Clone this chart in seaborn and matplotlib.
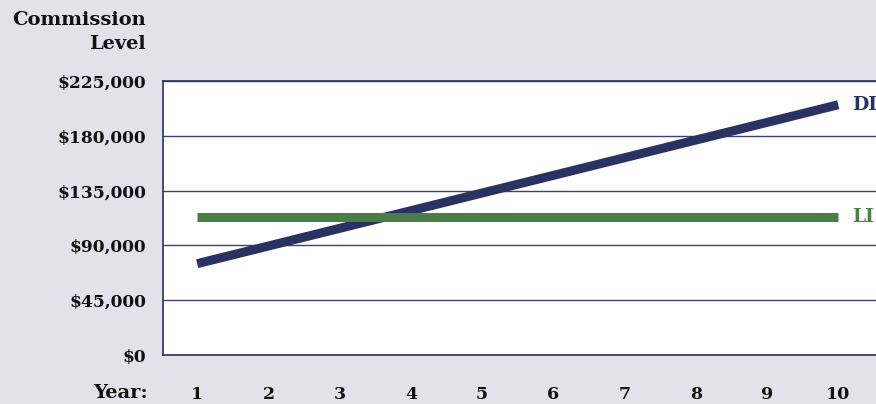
import pandas as pd
import seaborn as sns
import matplotlib.pyplot as plt

sns.set_style('white')
plt.rcParams['font.family'] = ['DejaVu Serif']

years = [1, 2, 3, 4, 5, 6, 7, 8, 9, 10]
di_values = [75000, 89500, 104000, 118500, 133000, 147500, 162000, 176500, 191000, 205500]
li_values = [113000] * 10
y_ticks = [0, 45000, 90000, 135000, 180000, 225000]
y_labels = ['$0', '$45,000', '$90,000', '$135,000', '$180,000', '$225,000']

bg = '#e3e1ea'
navy = '#2a3262'
green = '#4b7d47'
txt = '#111111'

data = pd.DataFrame({
    'Year': years * 2,
    'Commission': di_values + li_values,
    'Plan': ['DI'] * 10 + ['LI'] * 10,
})

fig = plt.figure(figsize=(8.76, 4.04), dpi=100, facecolor=bg)
ax = fig.add_axes([163 / 876, 49 / 404, 1 - 163 / 876, 274 / 404])
ax.set_facecolor('white')

sns.lineplot(data=data, x='Year', y='Commission', hue='Plan',
             palette={'DI': navy, 'LI': green}, linewidth=6.5,
             legend=False, ax=ax, zorder=3)
for line in ax.lines:
    line.set_solid_capstyle('butt')

ax.set_xlim(0.52, 10.53)
ax.set_ylim(0, 225000)
ax.set_yticks(y_ticks)
ax.set_yticklabels(y_labels)
ax.set_xticks(years)
ax.set_xticklabels([str(y) for y in years])
ax.yaxis.grid(True, color='#3a4272', linewidth=1.0)
ax.xaxis.grid(False)
ax.set_axisbelow(True)

for spine in ['left', 'top', 'bottom']:
    ax.spines[spine].set_color(navy)
    ax.spines[spine].set_linewidth(1.2)
ax.spines['right'].set_visible(False)

ax.tick_params(axis='y', length=0, pad=12, labelsize=12.3)
ax.tick_params(axis='x', length=0, pad=22, labelsize=12.5)
for lbl in ax.get_xticklabels() + ax.get_yticklabels():
    lbl.set_fontweight('bold')
    lbl.set_color(txt)
ax.set_xlabel('')
ax.set_ylabel('')

ax.text(10.19, di_values[-1], 'DI', color=navy, fontsize=13.5, fontweight='bold',
        va='center', ha='left', clip_on=False)
ax.text(10.19, li_values[-1], 'LI', color=green, fontsize=13.5, fontweight='bold',
        va='center', ha='left', clip_on=False)

fig.text(146 / 876, 1 - 11 / 404, 'Commission\nLevel', ha='right', va='top',
         fontsize=14, fontweight='bold', color=txt, linespacing=1.4)
fig.text(148 / 876, 1 - 393 / 404, 'Year:', ha='right', va='center',
         fontsize=14, fontweight='bold', color=txt)

plt.savefig('out.png', dpi=100, facecolor=bg)
